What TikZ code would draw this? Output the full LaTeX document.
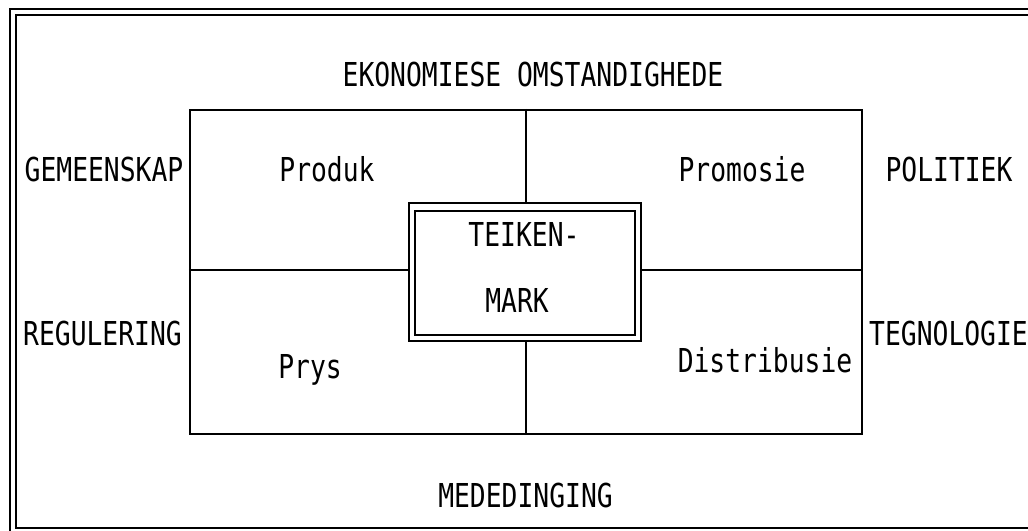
\documentclass[tikz,border=0pt]{standalone}
\usepackage{fontspec}
\newfontfamily\plotfont[FakeStretch=0.8]{DejaVu Sans Mono}
\begin{document}
\begin{tikzpicture}[x=0.75pt,y=-0.75pt,
  lbl/.style={inner sep=0pt,anchor=base,font=\plotfont\fontsize{24.7}{30}\selectfont},
  thickline/.style={line width=1.5pt},
  boxline/.style={line width=1.6pt}]
\useasboundingbox (0,0) rectangle (1028,531);
\clip (0,0) rectangle (1028,531);
\fill[white] (0,0) rectangle (1028,531);
% outer double frame (cut at right and bottom)
\draw[thickline] (9.5,9.5) rectangle (1045,540);
\draw[thickline] (16,15.5) rectangle (1038,528);
% inner rectangle
\node[draw,boxline,minimum width=672*0.75pt,minimum height=324*0.75pt,inner sep=0pt] (frame) at (526,272) {};
% centre box (double line)
\node[draw,line width=1.8pt,minimum width=232*0.75pt,minimum height=138*0.75pt,inner sep=0pt] (teiken) at (525,272) {};
\node[draw,line width=1.5pt,minimum width=220*0.75pt,minimum height=124*0.75pt,inner sep=0pt] (teikenin) at (525,273) {};
% quadrant dividers
\draw[boxline] (frame.north) -- (teiken.north -| frame.north);
\draw[boxline] (teiken.south -| frame.south) -- (frame.south);
\draw[boxline] (frame.west |- 0,270) -- (teiken.west |- 0,270);
\draw[boxline] (teiken.east |- 0,270) -- (frame.east |- 0,270);
% labels
\node[lbl] (eko) at (533,87) {EKONOMIESE OMSTANDIGHEDE};
\node[lbl] (gem) at (104,182) {GEMEENSKAP};
\node[lbl] (pro) at (327,182) {Produk};
\node[lbl] (prom) at (742,182) {Promosie};
\node[lbl] (pol) at (949,182) {POLITIEK};
\node[lbl] (tk1) at (524,247) {TEIKEN-};
\node[lbl] (tk2) at (517,312) {MARK};
\node[lbl] (reg) at (102.5,345) {REGULERING};
\node[lbl] (teg) at (948.5,345) {TEGNOLOGIE};
\node[lbl] (prys) at (310,378) {Prys};
\node[lbl] (dis) at (765,372) {Distribusie};
\node[lbl] (med) at (525.5,507) {MEDEDINGING};
\end{tikzpicture}
\end{document}
